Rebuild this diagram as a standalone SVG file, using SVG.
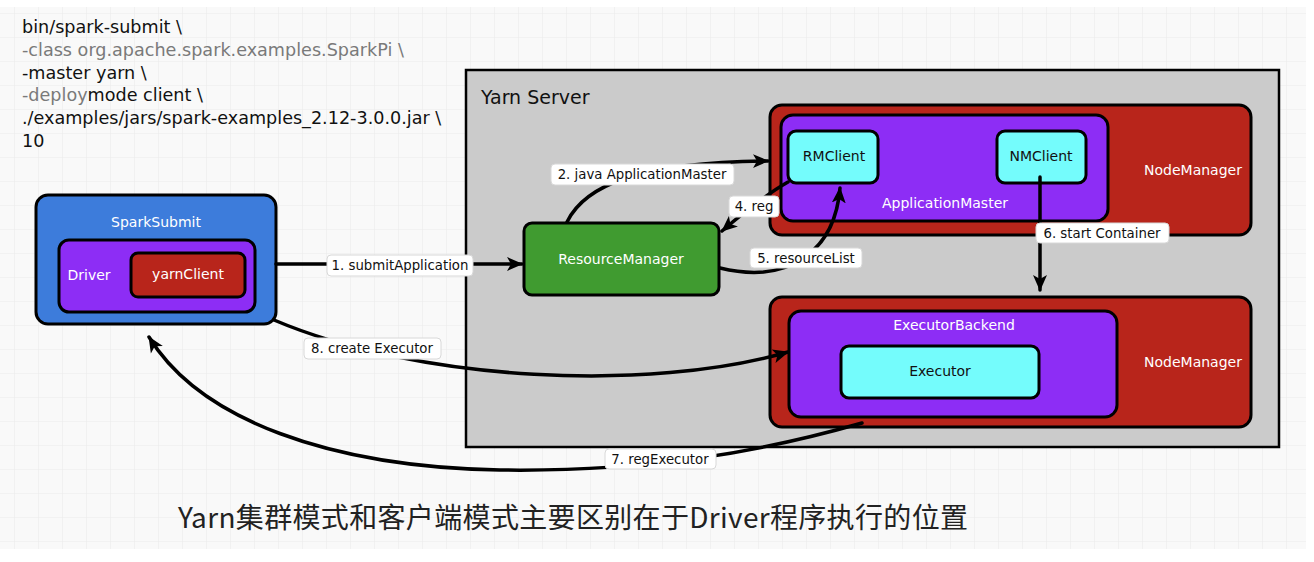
<svg xmlns="http://www.w3.org/2000/svg" width="1314" height="562" viewBox="0 0 1314 562">
<defs>
<pattern id="grid" patternUnits="userSpaceOnUse" x="14" y="13" width="24" height="24">
<rect width="24" height="24" fill="#f9f9f9"/>
<path d="M0,0 H24 M0,0 V24" stroke="#ececec" stroke-width="1.2" fill="none"/>
</pattern>
<marker id="ah" markerUnits="userSpaceOnUse" markerWidth="18" markerHeight="16" refX="15" refY="8" orient="auto">
<path d="M0,1 L16,8 L0,15 L4,8 Z" fill="#000"/>
</marker>
</defs>
<style>
.box{stroke:#000;stroke-width:3}
.w{font-family:"DejaVu Sans","Liberation Sans",sans-serif;font-size:14px;fill:#fff;text-anchor:middle}
.d{font-family:"DejaVu Sans","Liberation Sans",sans-serif;font-size:14px;fill:#111;text-anchor:middle}
.lb{fill:#fff;stroke:#d8d8d8;stroke-width:1}
.lt{font-family:"DejaVu Sans","Liberation Sans",sans-serif;font-size:13.3px;fill:#111;text-anchor:middle}
.cmd{font-family:"DejaVu Sans","Liberation Sans",sans-serif;font-size:17.6px;fill:#111}
.g{fill:#7a7a7a}
.c{fill:none;stroke:#000;stroke-width:3.5;stroke-linecap:round}
</style>
<rect x="0" y="0" width="1314" height="562" fill="#fff"/>
<rect x="0" y="7" width="1306" height="542" fill="url(#grid)"/>

<g id="command">
<text class="cmd" x="22" y="33">bin/spark-submit \</text>
<text class="cmd g" x="22" y="56">-class org.apache.spark.examples.SparkPi \</text>
<text class="cmd" x="22" y="79">-master yarn \</text>
<text class="cmd" x="22" y="101"><tspan class="g">-deploy</tspan>mode client \</text>
<text class="cmd" x="22" y="124">./examples/jars/spark-examples_2.12-3.0.0.jar \</text>
<text class="cmd" x="22" y="147">10</text>
</g>

<g id="yarn-server">
<rect x="466" y="70" width="813" height="377" fill="#cbcbcb" stroke="#000" stroke-width="2.5"/>
<text x="481" y="104" font-family="DejaVu Sans, Liberation Sans, sans-serif" font-size="19" fill="#111">Yarn Server</text>
</g>

<g id="nodemanager-top">
<rect class="box" x="770" y="105" width="481" height="130" rx="12" fill="#b8251b"/>
<text class="w" x="1193" y="175">NodeManager</text>
</g>
<g id="application-master">
<rect class="box" x="781" y="115" width="327" height="106" rx="12" fill="#8d2df5"/>
<text class="w" x="945" y="208">ApplicationMaster</text>
</g>
<g id="rmclient">
<rect class="box" x="788" y="131" width="90" height="52" rx="8" fill="#74fcfc"/>
<text class="d" x="834" y="161">RMClient</text>
</g>
<g id="nmclient">
<rect class="box" x="997" y="131" width="89" height="52" rx="8" fill="#74fcfc"/>
<text class="d" x="1041" y="161">NMClient</text>
</g>

<g id="nodemanager-bottom">
<rect class="box" x="770" y="297" width="481" height="130" rx="12" fill="#b8251b"/>
<text class="w" x="1193" y="367">NodeManager</text>
</g>
<g id="executor-backend">
<rect class="box" x="789" y="311" width="328" height="106" rx="12" fill="#8d2df5"/>
<text class="w" x="954" y="330">ExecutorBackend</text>
</g>
<g id="executor">
<rect class="box" x="841" y="346" width="198" height="52" rx="8" fill="#74fcfc"/>
<text class="d" x="940" y="376">Executor</text>
</g>

<g id="resource-manager">
<rect class="box" x="524" y="223" width="195" height="72" rx="8" fill="#409b30"/>
<text class="w" x="621" y="264">ResourceManager</text>
</g>

<g id="spark-submit">
<rect class="box" x="36" y="195" width="240" height="129" rx="12" fill="#3d7cdb"/>
<text class="w" x="156" y="227">SparkSubmit</text>
</g>
<g id="driver">
<rect class="box" x="59" y="240" width="196" height="72" rx="10" fill="#8d2df5"/>
<text class="w" x="89" y="280">Driver</text>
</g>
<g id="yarn-client">
<rect class="box" x="131" y="253" width="114" height="44" rx="7" fill="#b8251b"/>
<text class="w" x="188" y="279">yarnClient</text>
</g>

<g id="connectors">
<path class="c" d="M276,264 L522,264" marker-end="url(#ah)"/>
<path class="c" d="M567,222 C585,185 640,162 768,161" marker-end="url(#ah)"/>
<path class="c" d="M788,182 C765,195 742,214 722,231" marker-end="url(#ah)"/>
<path class="c" d="M720,268 C790,285 835,250 840,188" marker-end="url(#ah)"/>
<path class="c" d="M1040,177 L1040,290" marker-end="url(#ah)"/>
<path class="c" d="M274,320 C420,382 650,392 788,352" marker-end="url(#ah)"/>
<path class="c" d="M862,423 C760,452 650,472 500,470 C330,467 200,420 149,337" marker-end="url(#ah)"/>

<rect class="lb" x="327" y="255" width="146" height="21" rx="4"/>
<text class="lt" x="400" y="270">1. submitApplication</text>
<rect class="lb" x="551" y="164" width="183" height="21" rx="4"/>
<text class="lt" x="642" y="179">2. java ApplicationMaster</text>
<rect class="lb" x="729" y="196" width="50" height="21" rx="4"/>
<text class="lt" x="754" y="211">4. reg</text>
<rect class="lb" x="750" y="248" width="112" height="20" rx="4"/>
<text class="lt" x="806" y="263">5. resourceList</text>
<rect class="lb" x="1036" y="223" width="133" height="20" rx="4"/>
<text class="lt" x="1102" y="238">6. start Container</text>
<rect class="lb" x="304" y="338" width="137" height="21" rx="4"/>
<text class="lt" x="372" y="353">8. create Executor</text>
<rect class="lb" x="605" y="449" width="111" height="20" rx="4"/>
<text class="lt" x="660" y="464">7. regExecutor</text>
</g>

<text x="178" y="528" font-family="Noto Sans CJK SC, sans-serif" font-size="28" fill="#222" textLength="790" lengthAdjust="spacing">Yarn集群模式和客户端模式主要区别在于Driver程序执行的位置</text>
</svg>
